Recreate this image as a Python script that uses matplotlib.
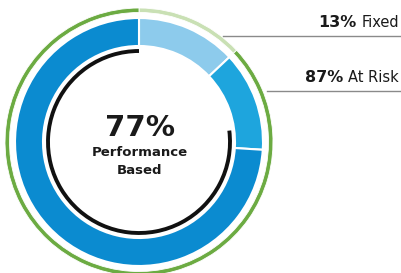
import matplotlib.pyplot as plt
from matplotlib.patches import Arc

# pay mix (percent)
inner_labels = ["Fixed", "At Risk (other)", "Performance Based"]
inner_values = [13, 13, 74]
inner_colors = ["#8dcbec", "#1ea5dd", "#0b8bd0"]

outer_labels = ["Fixed", "At Risk"]
outer_values = [13, 87]
outer_colors = ["#c9e0b4", "#6cab42"]

perf_share = 77

fig = plt.figure(figsize=(4.01, 2.73), dpi=100)
ax = fig.add_axes([0, 0, 1, 1])
ax.set_xlim(0, 401)
ax.set_ylim(0, 273)

cx, cy = 139, 131

# outer thin ring
ax.pie(outer_values, colors=outer_colors, startangle=90, counterclock=False,
       center=(cx, cy), radius=134, frame=True,
       wedgeprops=dict(width=4.5, edgecolor="white", linewidth=0.6))
# main ring
ax.pie(inner_values, colors=inner_colors, startangle=90, counterclock=False,
       center=(cx, cy), radius=124, frame=True,
       wedgeprops=dict(width=28, edgecolor="white", linewidth=1.5))

# black arc for performance-based share
ax.add_patch(Arc((cx, cy), 182, 182, theta1=90, theta2=90 + perf_share * 3.6,
                 color="#111111", lw=2.8))

# centre text
ax.text(cx + 1, 145, f"{perf_share}%", ha="center", va="center",
        fontsize=21, fontweight="bold", color="#1a1a1a")
ax.text(cx + 1, 121, "Performance", ha="center", va="center",
        fontsize=9.5, fontweight="bold", color="#1a1a1a")
ax.text(cx + 1, 103, "Based", ha="center", va="center",
        fontsize=9.5, fontweight="bold", color="#1a1a1a")

ax.set_xlim(0, 401)
ax.set_ylim(0, 273)
ax.set_aspect("auto")
ax.set_axis_off()

# leader lines and labels
ax.plot([223, 401], [237, 237], color="#8a8a8a", lw=1)
ax.plot([267, 401], [182, 182], color="#8a8a8a", lw=1)

renderer = fig.canvas.get_renderer()
for name, val, y in zip(outer_labels, outer_values, [243, 188]):
    t = ax.text(399, y, name, ha="right", va="bottom", fontsize=10.5, color="#1a1a1a")
    left = t.get_window_extent(renderer).x0
    ax.text(left - 5, y, f"{val}%", ha="right", va="bottom",
            fontsize=11.5, fontweight="bold", color="#1a1a1a")

fig.savefig("out.png", dpi=100)
